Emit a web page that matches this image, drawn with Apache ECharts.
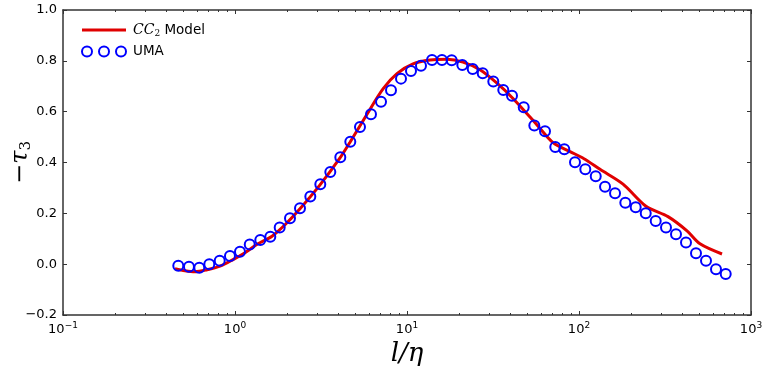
<!DOCTYPE html>
<html>
<head>
<meta charset="utf-8">
<script src="https://cdn.jsdelivr.net/npm/echarts@6/dist/echarts.min.js"></script>
<style>html,body{margin:0;padding:0;background:#fff;}#c{width:765px;height:372px;}</style>
</head>
<body>
<div id="c"></div>
<script>
// UMA data (circles)
const umaX = [0.468,0.540,0.620,0.709,0.815,0.935,1.069,1.218,1.403,1.604,1.819,2.088,2.387,2.741,3.133,3.582,4.095,4.681,5.330,6.175,7.062,8.072,9.229,10.55,12.06,13.98,15.97,18.19,20.97,24.10,27.55,31.75,36.29,40.78,47.70,54.98,63.44,72.80,82.13,94.78,108.8,125.1,141.7,162.0,185.9,213.6,244.3,279.2,320.5,366.4,418.9,478.9,547.5,625.9,712.8];
const umaY = [-0.006,-0.010,-0.014,0.000,0.013,0.032,0.049,0.077,0.095,0.108,0.144,0.181,0.220,0.266,0.314,0.363,0.421,0.482,0.540,0.590,0.639,0.684,0.730,0.760,0.781,0.803,0.803,0.802,0.784,0.768,0.751,0.719,0.685,0.663,0.617,0.546,0.523,0.461,0.452,0.401,0.373,0.346,0.305,0.279,0.242,0.224,0.200,0.170,0.144,0.118,0.085,0.043,0.013,-0.020,-0.039];
// CC2 model (line)
const modelX = [0.448,0.512,0.585,0.688,0.818,0.974,1.143,1.360,1.641,1.953,2.387,3.121,4.078,4.663,5.854,7.253,8.747,10.84,13.61,17.08,21.16,26.57,33.37,41.33,57.00,70.62,88.64,106.9,132.5,180.3,245.2,329.2,424.6,505.2,678.5];
const modelY = [-0.018,-0.026,-0.030,-0.022,-0.008,0.018,0.045,0.080,0.110,0.155,0.218,0.312,0.418,0.480,0.590,0.690,0.750,0.788,0.803,0.806,0.795,0.765,0.712,0.652,0.548,0.478,0.443,0.415,0.373,0.315,0.228,0.187,0.131,0.080,0.040];
// ticks
const xMajor = [0.1,1,10,100,1000];
const xMajorExp = ['−1','0','1','2','3'];
const xMinor = [];
[0.1,1,10,100].forEach(d=>{for(let k=2;k<=9;k++) xMinor.push(+(d*k).toPrecision(3));});
const yMin = -0.2, yMax = 1.0, yStep = 0.2;

const chart = echarts.init(document.getElementById('c'), null, {renderer:'canvas'});
const lineCol = '#333';
const baseX = {type:'log', logBase:10, min:0.1, max:1000, gridIndex:0,
  splitLine:{show:false}, minorTick:{show:false}, minorSplitLine:{show:false}};
const font = 'DejaVu Sans';
const option = {
  animation:false,
  backgroundColor:'#fff',
  grid:{left:63, right:14, top:10, bottom:57, containLabel:false, outerBoundsMode:'none'},
  legend:{
    orient:'vertical', left:76, top:18, itemGap:6,
    itemWidth:44, itemHeight:10, symbolKeepAspect:true,
    textStyle:{fontFamily:font, fontSize:13.5, color:'#000', padding:[0,0,0,2],
      rich:{i:{fontFamily:'DejaVu Serif', fontStyle:'italic', fontSize:14}, s:{fontFamily:'DejaVu Serif', fontSize:9, padding:[8,0,0,0]}, t:{fontFamily:font, fontSize:13.5}}},
    data:[
      {name:'CC2 Model', icon:'path://M0,0H44V3H0Z', itemStyle:{color:'#e00000', borderWidth:0}},
      {name:'UMA', icon:'path://M0,5a5,5 0 1,0 10,0a5,5 0 1,0 -10,0M17,5a5,5 0 1,0 10,0a5,5 0 1,0 -10,0M34,5a5,5 0 1,0 10,0a5,5 0 1,0 -10,0',
        itemStyle:{color:'rgba(0,0,0,0)', borderColor:'#0000ff', borderWidth:2}}
    ],
    formatter:function(n){ return n==='CC2 Model' ? '{i|CC}{s|2}{t| Model}' : n; }
  },
  xAxis:[
    Object.assign({}, baseX, {position:'bottom',
      name:'l/η', nameLocation:'middle', nameGap:22,
      nameTextStyle:{fontFamily:'DejaVu Serif', fontStyle:'italic', fontSize:26, color:'#000'},
      axisLine:{show:true, onZero:false, lineStyle:{color:lineCol, width:1.5}},
      axisTick:{show:true, inside:true, length:4, customValues:xMajor, lineStyle:{color:lineCol}},
      axisLabel:{show:true, margin:6, customValues:xMajor, color:'#000',
        formatter:function(v){ const i = xMajor.findIndex(m=>Math.abs(Math.log10(m)-Math.log10(v))<1e-6); return '{b|10}{s|'+xMajorExp[i]+'}'; },
        rich:{b:{fontFamily:font, fontSize:13, color:'#000'}, s:{fontFamily:font, fontSize:9, color:'#000', padding:[0,0,9,0]}}}}),
    Object.assign({}, baseX, {position:'bottom',
      axisLine:{show:false, onZero:false}, axisLabel:{show:false},
      axisTick:{show:true, inside:true, length:2, customValues:xMinor, lineStyle:{color:lineCol}}}),
    Object.assign({}, baseX, {position:'top',
      axisLine:{show:true, onZero:false, lineStyle:{color:lineCol, width:1.5}}, axisLabel:{show:false},
      axisTick:{show:true, inside:true, length:4, customValues:xMajor, lineStyle:{color:lineCol}}}),
    Object.assign({}, baseX, {position:'top',
      axisLine:{show:false, onZero:false}, axisLabel:{show:false},
      axisTick:{show:true, inside:true, length:2, customValues:xMinor, lineStyle:{color:lineCol}}})
  ],
  yAxis:[
    {type:'value', position:'left', min:yMin, max:yMax, interval:yStep,
      name:'{a|−τ}{s|3}', nameLocation:'middle', nameGap:29, nameRotate:90, nameMoveOverlap:false,
      nameTextStyle:{rich:{a:{fontFamily:'DejaVu Serif', fontStyle:'italic', fontSize:24, color:'#000'}, s:{fontFamily:'DejaVu Serif', fontSize:15, color:'#000', padding:[12,0,0,0]}}},
      splitLine:{show:false},
      axisLine:{show:true, onZero:false, lineStyle:{color:lineCol, width:1.5}},
      axisTick:{show:true, inside:true, length:4, lineStyle:{color:lineCol}},
      axisLabel:{show:true, margin:6, fontFamily:font, fontSize:13, color:'#000',
        formatter:function(v){ return (v< -1e-9?'−':'') + Math.abs(v).toFixed(1); }}},
    {type:'value', position:'right', min:yMin, max:yMax, interval:yStep,
      splitLine:{show:false}, axisLabel:{show:false},
      axisLine:{show:true, onZero:false, lineStyle:{color:lineCol, width:1.5}},
      axisTick:{show:true, inside:true, length:4, lineStyle:{color:lineCol}}}
  ],
  series:[
    {name:'CC2 Model', type:'line', xAxisIndex:0, yAxisIndex:0,
      data: modelX.map((x,i)=>[x, modelY[i]]),
      showSymbol:false, symbol:'none', smooth:0.3,
      lineStyle:{color:'#e00000', width:3}, itemStyle:{color:'#e00000'}, z:2},
    {name:'UMA', type:'scatter', xAxisIndex:0, yAxisIndex:0,
      data: umaX.map((x,i)=>[x, umaY[i]]),
      symbol:'circle', symbolSize:10,
      itemStyle:{color:'rgba(0,0,0,0)', borderColor:'#0000ff', borderWidth:2, opacity:1}, z:3}
  ]
};
chart.setOption(option);
</script>
</body>
</html>
